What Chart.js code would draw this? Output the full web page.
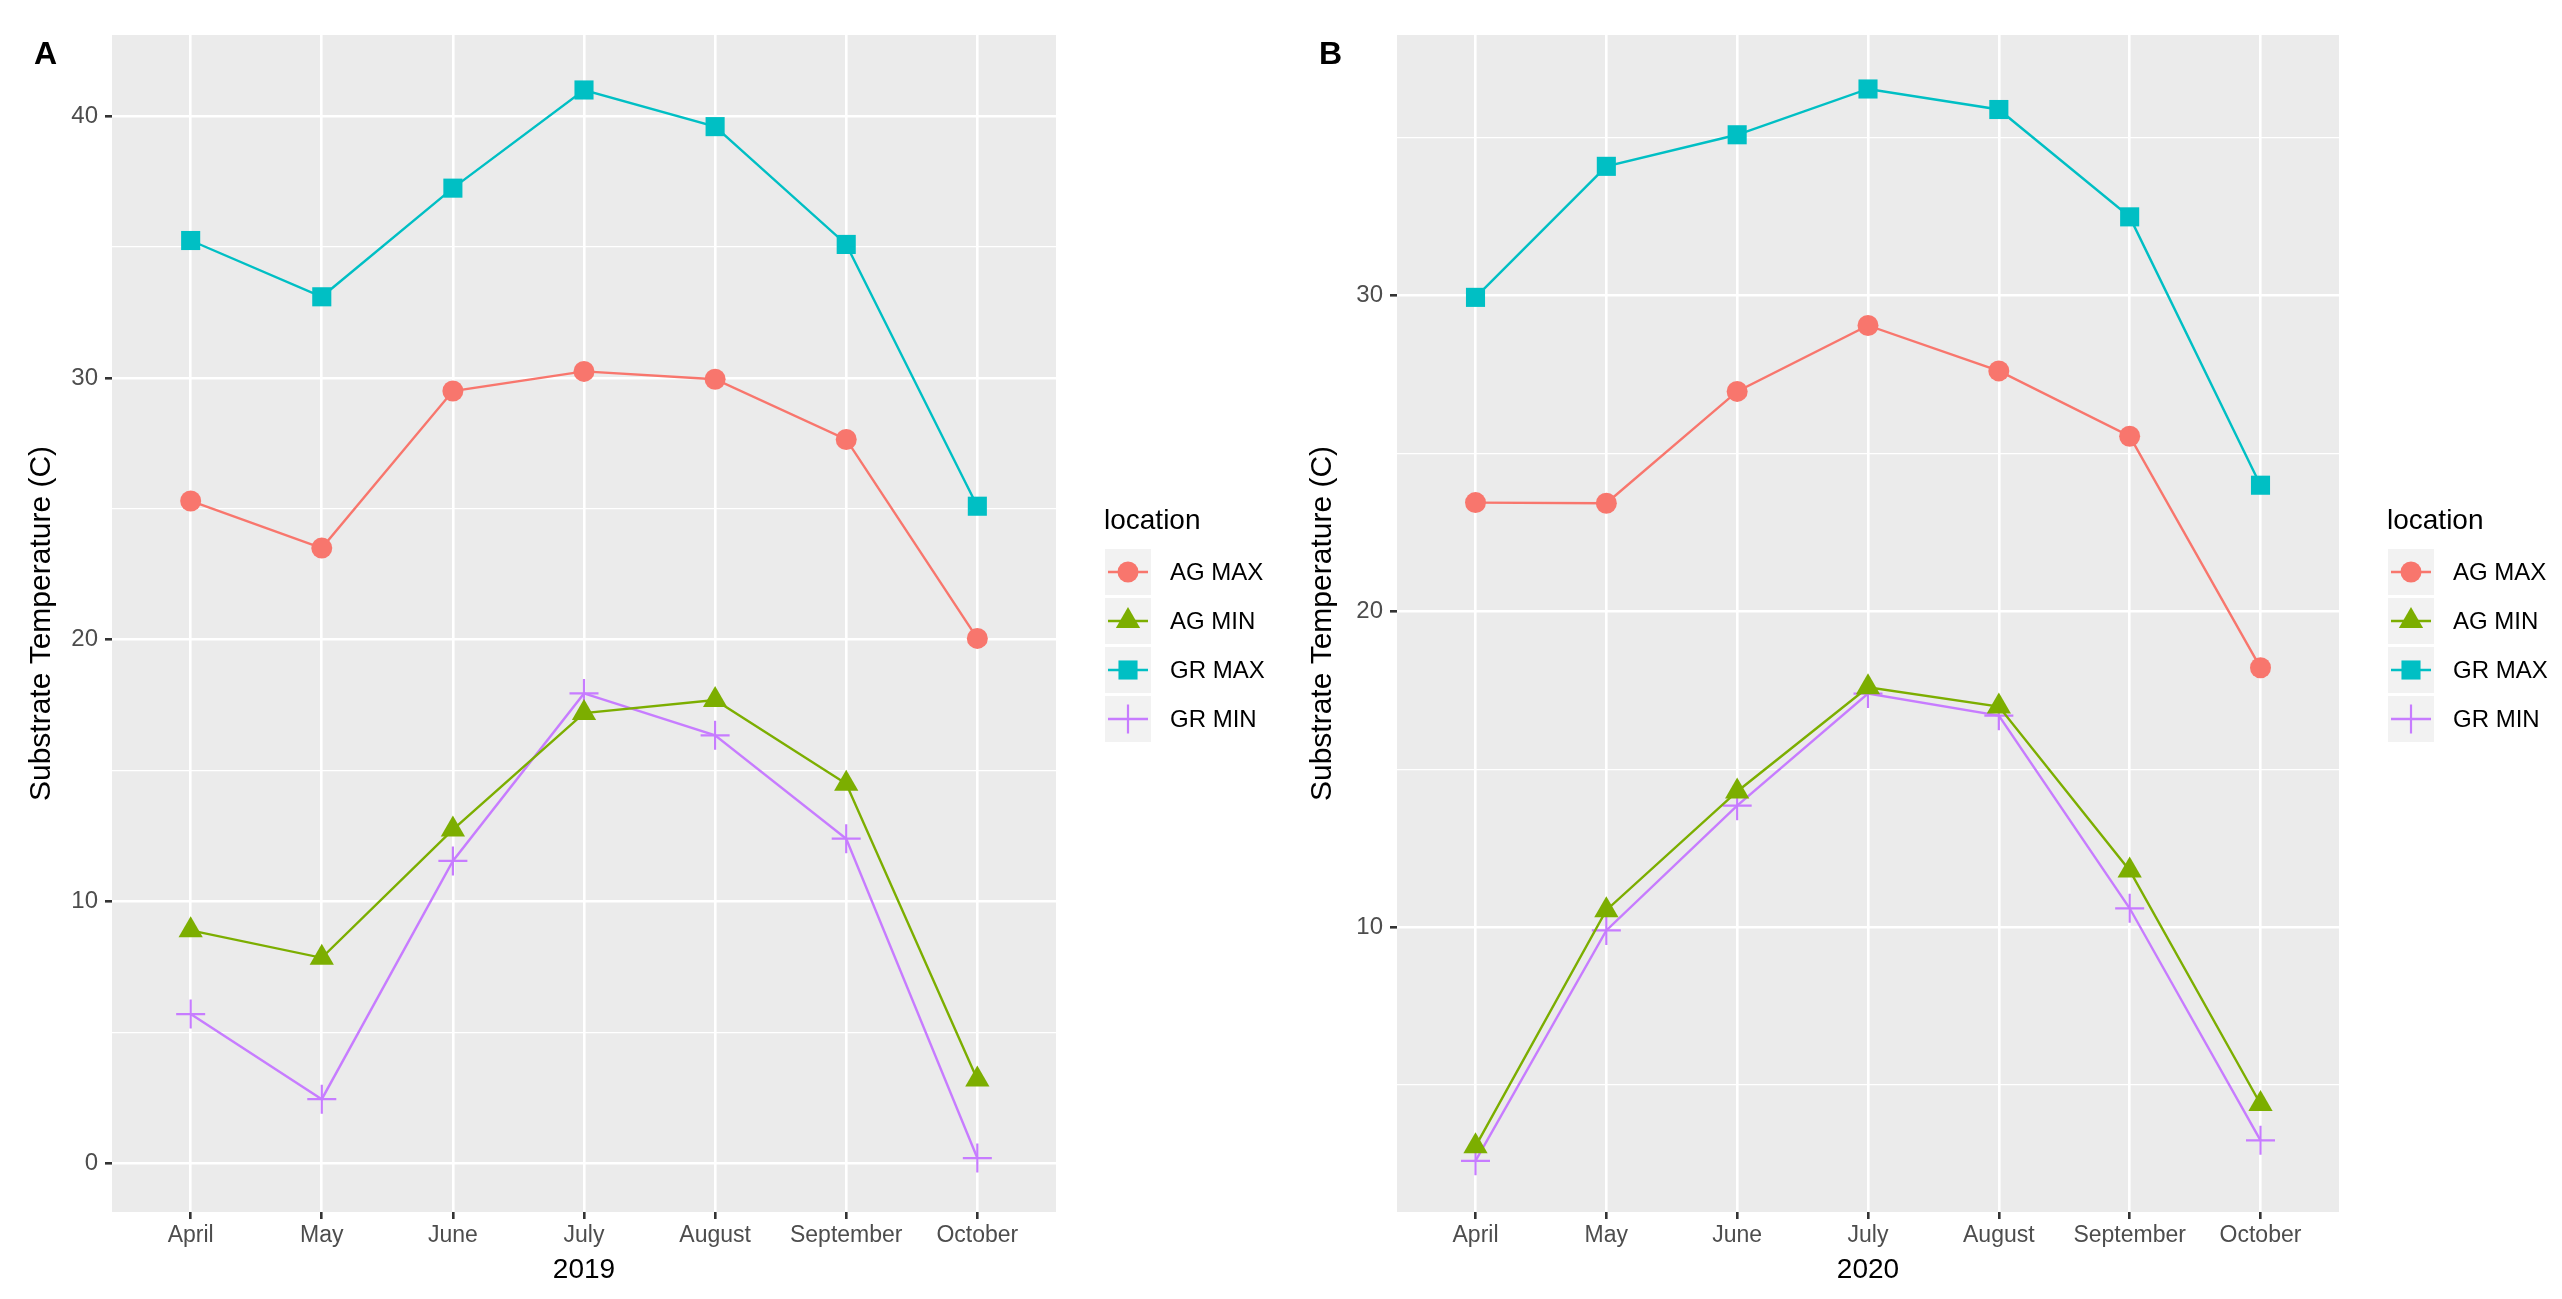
<!DOCTYPE html>
<html>
<head>
<meta charset="utf-8">
<script src="https://cdn.jsdelivr.net/npm/chart.js@4/dist/chart.umd.min.js"></script>
<style>
  html, body { margin: 0; padding: 0; background: #fff; }
  #wrap { position: relative; width: 2562px; height: 1299px; }
  canvas { position: absolute; top: 0; }
  #chartA { left: 0; }
  #chartB { left: 1281px; }
</style>
</head>
<body>
<div id="wrap">
  <canvas id="chartA" width="1281" height="1299"></canvas>
  <canvas id="chartB" width="1281" height="1299"></canvas>
</div>
<script>
"use strict";

var months = ["April", "May", "June", "July", "August", "September", "October"];
var seriesNames = ["AG MAX", "AG MIN", "GR MAX", "GR MIN"];
var seriesColors = ["#F8766D", "#7CAE00", "#00BFC4", "#C77CFF"];

// 2019 (panel A)
var agMax2019 = [25.3, 23.5, 29.5, 30.25, 29.95, 27.65, 20.05];
var agMin2019 = [8.9, 7.85, 12.75, 17.2, 17.7, 14.5, 3.2];
var grMax2019 = [35.25, 33.1, 37.25, 41.0, 39.6, 35.1, 25.1];
var grMin2019 = [5.7, 2.45, 11.55, 17.95, 16.35, 12.4, 0.2];

// 2020 (panel B)
var agMax2020 = [23.45, 23.43, 26.97, 29.06, 27.62, 25.55, 18.22];
var agMin2020 = [3.06, 10.54, 14.3, 17.6, 16.99, 11.8, 4.4];
var grMax2020 = [29.95, 34.1, 35.1, 36.55, 35.9, 32.5, 24.0];
var grMin2020 = [2.6, 9.9, 13.85, 17.4, 16.7, 10.6, 3.25];

var yTicks2019 = [0, 5, 10, 15, 20, 25, 30, 35, 40];
var yTicks2020 = [5, 10, 15, 20, 25, 30, 35];

Chart.defaults.font.family = '"Liberation Sans", Arial, sans-serif';
Chart.defaults.devicePixelRatio = 1;

var pointStyles = ["circle", "triangle", "rect", "cross"];
var pointSizes = [10.5, 14, 13.5, 14.5];
var pointBorders = [0, 0, 0, 2.2];

function makeDatasets(lists) {
    return lists.map(function (vals, i) {
        return {
            label: seriesNames[i],
            data: vals.map(function (v, j) { return { x: j, y: v }; }),
            borderColor: seriesColors[i],
            backgroundColor: seriesColors[i],
            borderWidth: 2.4,
            pointStyle: pointStyles[i],
            pointRadius: pointSizes[i],
            pointBorderWidth: pointBorders[i],
            pointBackgroundColor: seriesColors[i],
            pointBorderColor: seriesColors[i],
            tension: 0
        };
    });
}

var panelBg = {
    id: "panelBg",
    beforeDraw: function (chart) {
        var a = chart.chartArea, ctx = chart.ctx;
        ctx.save();
        ctx.fillStyle = "#ebebeb";
        ctx.fillRect(a.left, a.top, a.right - a.left, a.bottom - a.top);
        ctx.restore();
    }
};

var ggLegend = {
    id: "ggLegend",
    afterDraw: function (chart) {
        var ctx = chart.ctx;
        var x0 = chart.chartArea.right + 48;
        ctx.save();
        ctx.fillStyle = "#000";
        ctx.font = 'bold 32px "Liberation Sans", Arial, sans-serif';
        ctx.textBaseline = "alphabetic";
        ctx.fillText(chart.options.plugins.ggLegend.tag, chart.chartArea.left - 78, 64);

        ctx.font = '28px "Liberation Sans", Arial, sans-serif';
        ctx.fillText("location", x0, 529);
        chart.data.datasets.forEach(function (ds, i) {
            var top = 549 + i * 49;
            var cy = top + 23;
            ctx.fillStyle = "#f2f2f2";
            ctx.fillRect(x0 + 1, top, 46, 46);
            ctx.strokeStyle = ds.borderColor;
            ctx.lineWidth = 2.4;
            ctx.beginPath();
            ctx.moveTo(x0 + 4, cy);
            ctx.lineTo(x0 + 44, cy);
            ctx.stroke();
            ctx.fillStyle = ds.borderColor;
            ctx.lineWidth = ds.pointBorderWidth;
            Chart.helpers.drawPoint(ctx, {
                pointStyle: ds.pointStyle,
                radius: ds.pointRadius,
                borderWidth: ds.pointBorderWidth,
                rotation: 0
            }, x0 + 24, cy);
            ctx.fillStyle = "#000";
            ctx.font = '24px "Liberation Sans", Arial, sans-serif';
            ctx.textBaseline = "middle";
            ctx.fillText(ds.label, x0 + 66, cy + 1);
        });
        ctx.restore();
    }
};

function makeChart(id, tag, year, lists, yMin, yMax, yTicks, yWidth, padRight) {
    return new Chart(document.getElementById(id), {
        type: "line",
        data: { datasets: makeDatasets(lists) },
        plugins: [panelBg, ggLegend],
        options: {
            responsive: false,
            animation: false,
            layout: { padding: { top: 35, right: padRight, bottom: 0, left: 0 } },
            plugins: {
                legend: { display: false },
                tooltip: { enabled: false },
                ggLegend: { tag: tag }
            },
            scales: {
                x: {
                    type: "linear",
                    min: -0.6,
                    max: 6.6,
                    afterBuildTicks: function (s) {
                        s.ticks = months.map(function (m, i) { return { value: i }; });
                    },
                    afterFit: function (s) { s.height = 87; },
                    border: { display: false },
                    grid: { color: "#ffffff", lineWidth: 2.6, tickColor: "#333333", tickLength: 7 },
                    ticks: {
                        autoSkip: false,
                        maxRotation: 0,
                        padding: 3,
                        color: "#4d4d4d",
                        font: { size: 23 },
                        callback: function (v) { return months[v]; }
                    },
                    title: {
                        display: true,
                        text: year,
                        color: "#000",
                        font: { size: 28 },
                        padding: { top: 0, bottom: 12 }
                    }
                },
                y: {
                    type: "linear",
                    min: yMin,
                    max: yMax,
                    afterBuildTicks: function (s) {
                        s.ticks = yTicks.map(function (v) { return { value: v }; });
                    },
                    afterFit: function (s) { s.width = yWidth; },
                    border: { display: false },
                    grid: {
                        color: "#ffffff",
                        lineWidth: function (c) { return c.tick && c.tick.value % 10 === 0 ? 2.6 : 1.3; },
                        tickColor: function (c) { return c.tick && c.tick.value % 10 === 0 ? "#333333" : "rgba(0,0,0,0)"; },
                        tickLength: 7
                    },
                    ticks: {
                        autoSkip: false,
                        padding: 7,
                        color: "#4d4d4d",
                        font: { size: 24 },
                        callback: function (v) { return v % 10 === 0 ? String(v) : ""; }
                    },
                    title: {
                        display: true,
                        text: "Substrate Temperature (C)",
                        color: "#000",
                        font: { size: 30 },
                        padding: { top: 24, bottom: 0 }
                    }
                }
            }
        }
    });
}

makeChart("chartA", "A", "2019", [agMax2019, agMin2019, grMax2019, grMin2019],
    -1.86, 43.1, yTicks2019, 112, 225);
makeChart("chartB", "B", "2020", [agMax2020, agMin2020, grMax2020, grMin2020],
    0.98, 38.26, yTicks2020, 116, 223);
</script>
</body>
</html>
